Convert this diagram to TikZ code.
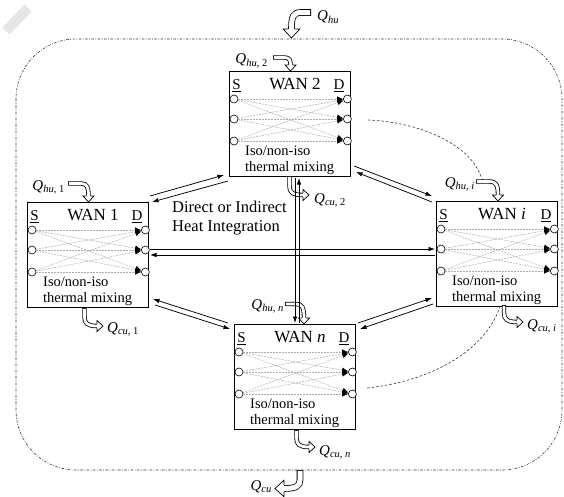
\documentclass[tikz,border=0pt]{standalone}
\usepackage{fontspec}
\setmainfont{Liberation Serif}
\usetikzlibrary{arrows.meta,calc}

\tikzset{
  wanbox/.style={draw, line width=0.9pt, minimum width=121pt, minimum height=105pt, inner sep=0pt, anchor=north west},
  port/.style={circle, draw, line width=0.6pt, fill=white, minimum size=8pt, inner sep=0pt},
  mixline/.style={gray!65, line width=0.5pt, dash pattern=on 2pt off 1pt, -{Latex[color=black,length=6pt,width=5.5pt]}},
  xchg/.style={line width=0.75pt, -{Latex[length=6.5pt,width=4.5pt]}},
  boundary/.style={black!80, line width=0.6pt, dash pattern=on 2.5pt off 1.5pt on 0.8pt off 1.5pt, rounded corners=60pt},
  guide/.style={black!80, line width=0.6pt, dash pattern=on 2.5pt off 2pt},
  wtxt/.style={font=\fontsize{17}{19}\selectfont, inner sep=0pt, anchor=base},
  sdtxt/.style={font=\fontsize{15}{17}\selectfont, inner sep=0pt, anchor=base},
  mtxt/.style={font=\fontsize{14.5}{16}\selectfont, inner sep=0pt, anchor=base west},
  qlab/.style={font=\fontsize{15}{17}\selectfont, inner sep=0pt},
  btxt/.style={font=\fontsize{16.5}{19}\selectfont, inner sep=0pt, align=left, anchor=north west},
}

% hollow U-turn arrow: [scale]{shaft path ending at head base}{tip}{angle}
\newcommand\harrow[4][1]{%
  \draw[line width=#1*4.4pt] #2;
  \draw[white, line width=#1*4.4pt-1.6pt, shorten <=0.8pt] #2;
  \begin{scope}[shift={#3}, rotate=#4, scale=#1]
    \fill[white] (0,0) -- (-6,5.5) -- (-6,-5.5) -- cycle;
    \draw[line width=0.7pt, line join=miter] (-6,2.2) -- (-6,5.5) -- (0,0) -- (-6,-5.5) -- (-6,-2.2);
  \end{scope}}

\newcommand\wanunit[4]{%
  \node[wanbox] (#1) at (#2,#3) {};
  \node[wtxt] (#1-t) at ($(#1.north west)+(66,18.5)$) {#4};
  \node[sdtxt] (#1-S) at ($(#1.north west)+(7.5,18.5)$) {\underline{S}};
  \node[sdtxt] (#1-D) at ($(#1.north west)+(110,18.5)$) {\underline{D}};
  \node[mtxt] (#1-m1) at ($(#1.north west)+(16,84)$) {Iso/non-iso};
  \node[mtxt] (#1-m2) at ($(#1.north west)+(16,100)$) {thermal mixing};
  \foreach \k/\dy in {1/28,2/48,3/70}{
    \node[port] (#1-s\k) at ($(#1.north west)+(5,\dy)$) {};
    \node[port] (#1-d\k) at ($(#1.north east)+(-3.5,\dy)$) {};
  }
  \foreach \a in {1,2,3}{\foreach \b in {1,2,3}{\draw[mixline] (#1-s\a) -- (#1-d\b);}}
}

\begin{document}
\begin{tikzpicture}[x=1pt, y=-1pt]
\useasboundingbox (0,0) rectangle (564,496);

% faint mark at top left
\draw[gray!20, line width=10pt] (6,31) -- (28,8);

% system boundary
\draw[boundary] (16,39) rectangle (562,470);

% units
\wanunit{w1}{27}{202}{WAN 1}
\wanunit{w2}{229}{71}{WAN 2}
\wanunit{wi}{436}{201}{WAN \textit{i}}
\wanunit{wn}{234}{324}{WAN \textit{n}}

% dashed guides (further units)
\coordinate (g1a) at (368,120); \coordinate (g1b) at (483,183);
\draw[guide] (g1a) .. controls (420,122) and (475,145) .. (g1b);
\coordinate (g2a) at (500,306); \coordinate (g2b) at (367,388);
\draw[guide] (g2a) .. controls (488,345) and (440,380) .. (g2b);

% utilities (hollow arrows)
\harrow[1.5]{(311,12.5) -- (301,12.5) .. controls (293,12.5) and (291.5,17) .. (291.5,29)}{(291.5,38)}{-90}
\harrow[1.5]{(300,470) -- (300,480) .. controls (300,486) and (296,488.5) .. (284,488.5)}{(275,488.5)}{180}
\harrow{(273,57.5) -- (284,57.5) .. controls (289.5,57.5) and (290.5,60) .. (290.5,65)}{(290.5,71)}{-90}
\harrow{(68,183.5) -- (81,183.5) .. controls (87,183.5) and (88.5,187) .. (88.5,196)}{(88.5,202)}{-90}
\harrow{(476,181.5) -- (490,181.5) .. controls (496,181.5) and (498,185) .. (498,195)}{(498,201)}{-90}
\harrow{(285,304) -- (296,304) .. controls (302,304) and (304,307) .. (304,318)}{(304,324)}{-90}
\harrow{(289.5,176) -- (289.5,186) .. controls (289.5,192) and (292,195) .. (303,195)}{(309,195)}{0}
\harrow{(84.5,308) -- (84.5,317) .. controls (84.5,323) and (87,326) .. (97,326)}{(103,326)}{0}
\harrow{(504,305) -- (504,313) .. controls (504,319) and (507,322) .. (517,322)}{(523,322)}{0}
\harrow{(296.5,430) -- (296.5,438) .. controls (296.5,444) and (299,447) .. (309,447)}{(315,447)}{0}

% utility labels
\node[qlab, anchor=west] (qhu) at (317,17) {\textit{Q}\textsubscript{\textit{hu}}};
\node[qlab, anchor=east] (qcu) at (272,487) {\textit{Q}\textsubscript{\textit{cu}}};
\node[qlab, anchor=east] (qhu2) at (268,61) {\textit{Q}\textsubscript{\textit{hu}, 2}};
\node[qlab, anchor=east] (qhu1) at (65,187) {\textit{Q}\textsubscript{\textit{hu}, 1}};
\node[qlab, anchor=east] (qhui) at (475,184) {\textit{Q}\textsubscript{\textit{hu}, \textit{i}}};
\node[qlab, anchor=east] (qhun) at (284,306) {\textit{Q}\textsubscript{\textit{hu}, \textit{n}}};
\node[qlab, anchor=west] (qcu2) at (314,200) {\textit{Q}\textsubscript{\textit{cu}, 2}};
\node[qlab, anchor=west] (qcu1) at (107,329) {\textit{Q}\textsubscript{\textit{cu}, 1}};
\node[qlab, anchor=west] (qcui) at (527,326) {\textit{Q}\textsubscript{\textit{cu}, \textit{i}}};
\node[qlab, anchor=west] (qcun) at (319,452) {\textit{Q}\textsubscript{\textit{cu}, \textit{n}}};

% heat integration links
\coordinate (a1) at (150,196); \coordinate (a2) at (224,175);
\coordinate (a3) at (228,181); \coordinate (a4) at (152,202);
\draw[xchg] (a1) -- (a2); \draw[xchg] (a3) -- (a4);
\coordinate (b1) at (354,166); \coordinate (b2) at (432,196);
\coordinate (b3) at (432,202); \coordinate (b4) at (356,172);
\draw[xchg] (b1) -- (b2); \draw[xchg] (b3) -- (b4);
\coordinate (c1) at (228,323); \coordinate (c2) at (153,299);
\coordinate (c3) at (155,305); \coordinate (c4) at (230,329);
\draw[xchg] (c1) -- (c2); \draw[xchg] (c3) -- (c4);
\coordinate (d1) at (358,323); \coordinate (d2) at (432,298);
\coordinate (d3) at (433,304); \coordinate (d4) at (360,329);
\draw[xchg] (d1) -- (d2); \draw[xchg] (d3) -- (d4);
\coordinate (e1) at (150,249); \coordinate (e2) at (435,249);
\coordinate (e3) at (435,255); \coordinate (e4) at (150,255);
\draw[xchg] (e1) -- (e2); \draw[xchg] (e3) -- (e4);
\coordinate (f1) at (295,178); \coordinate (f2) at (295,323);
\coordinate (f3) at (299,323); \coordinate (f4) at (299,178);
\draw[xchg] (f1) -- (f2); \draw[xchg] (f3) -- (f4);

\node[btxt] (hi) at (172,201) {Direct or Indirect\\Heat Integration};
\end{tikzpicture}
\end{document}
